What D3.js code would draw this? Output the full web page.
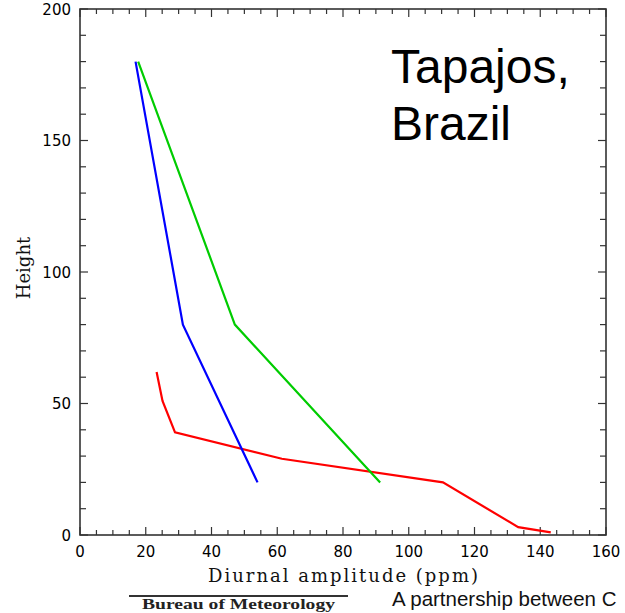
<!DOCTYPE html>
<html>
<head>
<meta charset="utf-8">
<script src="https://cdn.jsdelivr.net/npm/d3@7"></script>
<style>
  html, body { margin: 0; padding: 0; background: #fff; }
  svg { display: block; }
</style>
</head>
<body>
<svg id="chart" width="625" height="613"></svg>
<script>
// Diurnal amplitude profiles (ppm) against height for three series
const blueAmp    = [16.9, 31.3, 54.0];
const blueHeight = [180, 80, 20];
const greenAmp    = [17.7, 47.1, 91.3];
const greenHeight = [180, 80, 20];
const redAmp    = [23.3, 25.1, 28.9, 61.4, 110.4, 133.3, 143.2];
const redHeight = [62, 51, 39, 29, 20, 3, 1];

const xTickValues = [0, 20, 40, 60, 80, 100, 120, 140, 160];
const yTickValues = [0, 50, 100, 150, 200];

const svg = d3.select("#chart");
const plotLeft = 80, plotRight = 606, plotTop = 9, plotBottom = 535;

const x = d3.scaleLinear().domain([0, 160]).range([plotLeft, plotRight]);
const y = d3.scaleLinear().domain([0, 200]).range([plotBottom, plotTop]);

const frameColor = "#333";

// plot frame
svg.append("rect")
  .attr("x", plotLeft).attr("y", plotTop)
  .attr("width", plotRight - plotLeft).attr("height", plotBottom - plotTop)
  .attr("fill", "none").attr("stroke", frameColor).attr("stroke-width", 1.6);

// ticks on all four sides pointing inward
const xMinor = d3.range(0, 161, 5);
const yMinor = d3.range(0, 201, 10);
const tickGroup = svg.append("g").attr("stroke", frameColor).attr("stroke-width", 1.2);
xMinor.forEach(v => {
  const len = v % 20 === 0 ? 8 : 5;
  tickGroup.append("line").attr("x1", x(v)).attr("x2", x(v)).attr("y1", plotBottom).attr("y2", plotBottom - len);
  tickGroup.append("line").attr("x1", x(v)).attr("x2", x(v)).attr("y1", plotTop).attr("y2", plotTop + len);
});
yMinor.forEach(v => {
  const len = v % 50 === 0 ? 8 : 6;
  tickGroup.append("line").attr("y1", y(v)).attr("y2", y(v)).attr("x1", plotLeft).attr("x2", plotLeft + len);
  tickGroup.append("line").attr("y1", y(v)).attr("y2", y(v)).attr("x1", plotRight).attr("x2", plotRight - len);
});

// tick labels
const labelFont = "'DejaVu Sans', sans-serif";
svg.append("g").selectAll("text").data(xTickValues).join("text")
  .attr("x", d => x(d)).attr("y", 557)
  .attr("text-anchor", "middle")
  .attr("font-family", labelFont).attr("font-size", 15).attr("fill", "#000")
  .text(d => d);
svg.append("g").selectAll("text").data(yTickValues).join("text")
  .attr("x", 71).attr("y", d => y(d) + 5.5)
  .attr("text-anchor", "end")
  .attr("font-family", labelFont).attr("font-size", 15).attr("fill", "#000")
  .text(d => d);

// axis titles
const titleFont = "'DejaVu Serif', 'Liberation Serif', serif";
svg.append("text")
  .attr("x", 208).attr("y", 582)
  .attr("font-family", titleFont).attr("font-size", 18).attr("fill", "#111")
  .attr("textLength", 270).attr("lengthAdjust", "spacing")
  .text("Diurnal amplitude (ppm)");
svg.append("text")
  .attr("transform", "translate(30,268) rotate(-90)")
  .attr("text-anchor", "middle")
  .attr("font-family", titleFont).attr("font-size", 18).attr("fill", "#111")
  .text("Height");

// profile lines
const line = d3.line().x(d => x(d[0])).y(d => y(d[1]));
const series = [
  { amp: redAmp, h: redHeight, color: "#ff0000" },
  { amp: blueAmp, h: blueHeight, color: "#0000ff" },
  { amp: greenAmp, h: greenHeight, color: "#00cc00" }
];
series.forEach(s => {
  svg.append("path")
    .datum(d3.zip(s.amp, s.h))
    .attr("d", line)
    .attr("fill", "none")
    .attr("stroke", s.color)
    .attr("stroke-width", 2.2)
    .attr("stroke-linejoin", "miter");
});

// site name
const siteGroup = svg.append("g")
  .attr("font-family", "'Liberation Sans', Arial, sans-serif")
  .attr("font-size", 48).attr("fill", "#000");
siteGroup.append("text").attr("x", 391).attr("y", 83).text("Tapajos,");
siteGroup.append("text").attr("x", 391).attr("y", 140).text("Brazil");

// footer
svg.append("line")
  .attr("x1", 129).attr("x2", 348).attr("y1", 596).attr("y2", 596)
  .attr("stroke", "#333").attr("stroke-width", 2);
svg.append("text")
  .attr("x", 142).attr("y", 609)
  .attr("font-family", "'Liberation Serif', serif").attr("font-weight", "bold")
  .attr("font-size", 15).attr("fill", "#222")
  .attr("textLength", 193).attr("lengthAdjust", "spacingAndGlyphs")
  .text("Bureau of Meteorology");
svg.append("text")
  .attr("x", 392).attr("y", 606)
  .attr("font-family", "'Liberation Sans', Arial, sans-serif")
  .attr("font-size", 20.5).attr("fill", "#111")
  .text("A partnership between C");
</script>
</body>
</html>
